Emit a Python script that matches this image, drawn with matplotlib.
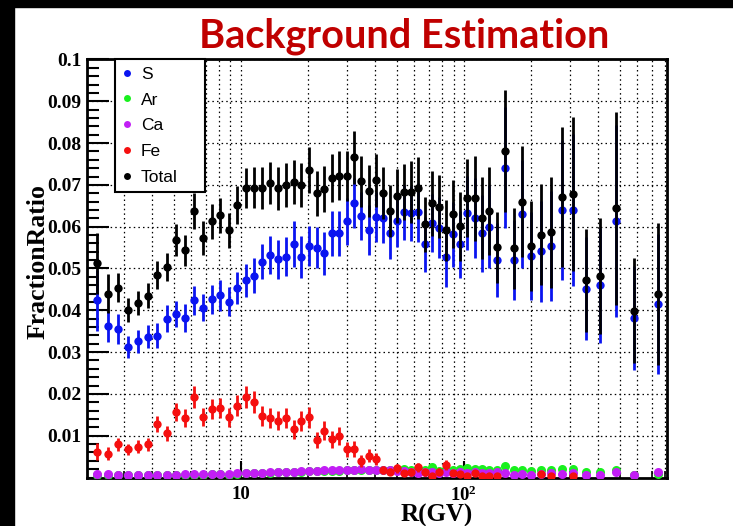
import matplotlib
matplotlib.use("Agg")
import matplotlib.pyplot as plt
from matplotlib.lines import Line2D
from matplotlib.patches import Rectangle
from matplotlib.ticker import FixedLocator, MultipleLocator, NullFormatter
import numpy as np

plt.rcParams['mathtext.fontset'] = 'custom'
plt.rcParams['mathtext.rm'] = 'Liberation Serif'
plt.rcParams['mathtext.bf'] = 'Liberation Serif:bold'

# rigidity bin centres (GV)
rigidity = [2.27, 2.53, 2.82, 3.13, 3.46, 3.83, 4.22, 4.65, 5.12, 5.63,
            6.18, 6.77, 7.42, 8.11, 8.86, 9.67, 10.54, 11.49, 12.49, 13.54,
            14.69, 15.94, 17.29, 18.73, 20.28, 21.93, 23.73, 25.68, 27.73, 29.93,
            32.28, 34.78, 37.47, 40.37, 43.47, 46.77, 50.32, 54.12, 58.16, 62.51,
            67.21, 72.25, 77.65, 83.45, 89.69, 96.44, 103.9, 111.9, 120.4, 129.9,
            140.9, 153.4, 167.3, 183.3, 201.3, 221.7, 245.7, 274.5, 309.9, 353.7,
            408.8, 481.3, 581.0, 740.0]

frac_S = [0.0424, 0.0362, 0.0355, 0.0313, 0.0326, 0.0337, 0.0339, 0.0380, 0.0391, 0.0381,
          0.0424, 0.0406, 0.0426, 0.0436, 0.0421, 0.0454, 0.0472, 0.0483, 0.0516, 0.0532,
          0.0522, 0.0528, 0.0558, 0.0528, 0.0554, 0.0550, 0.0536, 0.0584, 0.0584, 0.0613,
          0.0656, 0.0625, 0.0593, 0.0624, 0.0621, 0.0585, 0.0614, 0.0634, 0.0632, 0.0634,
          0.0558, 0.0609, 0.0598, 0.0527, 0.0582, 0.0558, 0.0633, 0.0621, 0.0584, 0.0600,
          0.0520, 0.0741, 0.0520, 0.0630, 0.0530, 0.0541, 0.0554, 0.0640, 0.0640, 0.0452,
          0.0460, 0.0613, 0.0381, 0.0415]
err_S = [0.0073, 0.0037, 0.0035, 0.0026, 0.0028, 0.0028, 0.0030, 0.0033, 0.0032, 0.0033,
         0.0035, 0.0032, 0.0034, 0.0037, 0.0035, 0.0038, 0.0039, 0.0041, 0.0042, 0.0045,
         0.0046, 0.0047, 0.0055, 0.0050, 0.0048, 0.0050, 0.0052, 0.0053, 0.0054, 0.0056,
         0.0060, 0.0058, 0.0060, 0.0060, 0.0061, 0.0062, 0.0063, 0.0065, 0.0066, 0.0070,
         0.0066, 0.0070, 0.0072, 0.0071, 0.0078, 0.0080, 0.0088, 0.0095, 0.0093, 0.0100,
         0.0088, 0.0145, 0.0095, 0.0130, 0.0106, 0.0120, 0.0132, 0.0167, 0.0182, 0.0124,
         0.0138, 0.0230, 0.0124, 0.0168]

frac_Ar = [0.0007, 0.0006, 0.0005, 0.0005, 0.0005, 0.0006, 0.0006, 0.0006, 0.0006, 0.0007,
           0.0007, 0.0006, 0.0008, 0.0008, 0.0007, 0.0009, 0.0010, 0.0010, 0.0010, 0.0011,
           0.0012, 0.0012, 0.0013, 0.0013, 0.0015, 0.0015, 0.0016, 0.0016, 0.0016, 0.0017,
           0.0018, 0.0019, 0.0019, 0.0018, 0.0019, 0.0017, 0.0018, 0.0020, 0.0019, 0.0021,
           0.0017, 0.0024, 0.0016, 0.0019, 0.0018, 0.0020, 0.0022, 0.0020, 0.0021, 0.0018,
           0.0018, 0.0027, 0.0018, 0.0019, 0.0016, 0.0019, 0.0019, 0.0020, 0.0021, 0.0012,
           0.0014, 0.0018, 0.0006, 0.0009]

frac_Ca = [0.0008, 0.0008, 0.0006, 0.0006, 0.0006, 0.0007, 0.0007, 0.0007, 0.0007, 0.0008,
           0.0008, 0.0008, 0.0009, 0.0009, 0.0009, 0.0010, 0.0011, 0.0011, 0.0011, 0.0012,
           0.0013, 0.0013, 0.0014, 0.0015, 0.0016, 0.0016, 0.0017, 0.0017, 0.0017, 0.0018,
           0.0019, 0.0020, 0.0019, 0.0018, 0.0018, 0.0017, 0.0016, 0.0016, 0.0012, 0.0010,
           0.0012, 0.0013, 0.0010, 0.0014, 0.0011, 0.0012, 0.0011, 0.0012, 0.0010, 0.0011,
           0.0012, 0.0011, 0.0006, 0.0008, 0.0006, 0.0009, 0.0010, 0.0009, 0.0010, 0.0005,
           0.0006, 0.0012, 0.0006, 0.0012]

nan = np.nan
frac_Fe = [0.0062, 0.0057, 0.0079, 0.0067, 0.0074, 0.0079, 0.0127, 0.0106, 0.0156, 0.0142,
           0.0192, 0.0145, 0.0163, 0.0167, 0.0144, 0.0172, 0.0193, 0.0181, 0.0148, 0.0142,
           0.0136, 0.0142, 0.0115, 0.0135, 0.0144, 0.0090, 0.0112, 0.0091, 0.0100, 0.0068,
           0.0068, 0.0040, 0.0052, 0.0044, 0.0018, 0.0014, 0.0022, 0.0010, 0.0012, 0.0024,
           0.0012, 0.0003, 0.0014, 0.0030, 0.0010, 0.0008, 0.0004, 0.0010, 0.0004, 0.0004,
           0.0003, nan, nan, nan, nan, 0.0008, 0.0004, nan, 0.0004, nan,
           nan, nan, nan, nan]
err_Fe = [0.0020, 0.0015, 0.0015, 0.0014, 0.0015, 0.0015, 0.0019, 0.0018, 0.0022, 0.0021,
          0.0026, 0.0022, 0.0024, 0.0024, 0.0023, 0.0025, 0.0027, 0.0026, 0.0024, 0.0024,
          0.0023, 0.0024, 0.0022, 0.0024, 0.0025, 0.0020, 0.0022, 0.0021, 0.0022, 0.0018,
          0.0019, 0.0014, 0.0016, 0.0015, 0.0010, 0.0008, 0.0011, 0.0007, 0.0008, 0.0011,
          0.0008, 0.0004, 0.0009, 0.0012, 0.0007, 0.0006, 0.0004, 0.0007, 0.0004, 0.0004,
          0.0003, nan, nan, nan, nan, 0.0008, 0.0004, nan, 0.0004, nan,
          nan, nan, nan, nan]

frac_total = [0.0512, 0.0440, 0.0454, 0.0400, 0.0417, 0.0435, 0.0485, 0.0504, 0.0568, 0.0544,
              0.0637, 0.0573, 0.0613, 0.0627, 0.0591, 0.0652, 0.0692, 0.0693, 0.0693, 0.0704,
              0.0692, 0.0700, 0.0707, 0.0700, 0.0735, 0.0680, 0.0690, 0.0717, 0.0722, 0.0722,
              0.0766, 0.0709, 0.0686, 0.0711, 0.0680, 0.0637, 0.0673, 0.0683, 0.0683, 0.0692,
              0.0606, 0.0656, 0.0648, 0.0592, 0.0630, 0.0601, 0.0668, 0.0668, 0.0621, 0.0638,
              0.0551, 0.0781, 0.0548, 0.0660, 0.0553, 0.0581, 0.0587, 0.0671, 0.0679, 0.0472,
              0.0482, 0.0644, 0.0399, 0.0438]
err_total = [0.0073, 0.0046, 0.0035, 0.0029, 0.0028, 0.0030, 0.0033, 0.0034, 0.0038, 0.0037,
             0.0043, 0.0041, 0.0042, 0.0042, 0.0041, 0.0045, 0.0048, 0.0049, 0.0050, 0.0050,
             0.0051, 0.0052, 0.0053, 0.0053, 0.0055, 0.0054, 0.0055, 0.0058, 0.0058, 0.0060,
             0.0064, 0.0061, 0.0062, 0.0063, 0.0062, 0.0062, 0.0065, 0.0068, 0.0075, 0.0074,
             0.0066, 0.0078, 0.0076, 0.0073, 0.0082, 0.0083, 0.0093, 0.0102, 0.0098, 0.0105,
             0.0085, 0.0147, 0.0097, 0.0133, 0.0108, 0.0120, 0.0133, 0.0168, 0.0184, 0.0123,
             0.0139, 0.0231, 0.0125, 0.0170]

ytick_vals = [0.01, 0.02, 0.03, 0.04, 0.05, 0.06, 0.07, 0.08, 0.09, 0.1]
ytick_labels = ['0.01', '0.02', '0.03', '0.04', '0.05', '0.06', '0.07', '0.08', '0.09', '0.1']

c_S, c_Ar, c_Ca, c_Fe, c_tot = '#0a14f0', '#19f01e', '#c21ef5', '#f50f0f', 'black'

fig = plt.figure(figsize=(7.33, 5.26), dpi=100)
ax = fig.add_axes([0.1187, 0.0922, 0.7913, 0.7947])

bar_style = dict(fmt='o', ms=6, mew=0, elinewidth=2.0, capsize=1.8, capthick=1.2)
ax.errorbar(rigidity, frac_S, yerr=err_S, color=c_S, zorder=3, **bar_style)
ax.plot(rigidity, frac_Ar, 'o', color=c_Ar, ms=6.5, mew=0, zorder=4)
ax.plot(rigidity, frac_Ca, 'o', color=c_Ca, ms=6.5, mew=0, zorder=5)
ax.errorbar(rigidity, frac_Fe, yerr=err_Fe, color=c_Fe, zorder=6, **bar_style)
ax.errorbar(rigidity, frac_total, yerr=err_total, color=c_tot, zorder=7, **bar_style)

ax.set_xscale('log')
ax.set_xlim(2.046, 816)
ax.set_ylim(0, 0.1)

serif_bold = dict(family='Liberation Serif', weight='bold')

ax.xaxis.set_major_locator(FixedLocator([10, 100]))
ax.set_xticklabels(['10', r'$\mathbf{10^{2}}$'], fontsize=13.5, **serif_bold)
ax.xaxis.set_minor_locator(FixedLocator([3, 4, 5, 6, 7, 8, 9, 20, 30, 40, 50, 60, 70, 80, 90,
                                         200, 300, 400, 500, 600, 700, 800]))
ax.xaxis.set_minor_formatter(NullFormatter())
ax.yaxis.set_major_locator(FixedLocator(ytick_vals))
ax.set_yticklabels(ytick_labels, fontsize=14, **serif_bold)
ax.yaxis.set_minor_locator(MultipleLocator(0.002))

ax.tick_params(axis='x', which='major', direction='in', length=12, width=1.5, pad=6)
ax.tick_params(axis='x', which='minor', direction='in', length=5, width=1.2)
ax.tick_params(axis='y', which='major', direction='in', length=16, width=1.5, pad=4)
ax.tick_params(axis='y', which='minor', direction='in', length=8.5, width=1.5)

ax.grid(True, axis='x', which='both', ls=(0, (1.2, 2.5)), color='black', lw=0.9)
ax.grid(True, axis='y', which='major', ls=(0, (1.2, 2.5)), color='black', lw=0.9)
ax.set_axisbelow(True)

for side in ax.spines.values():
    side.set_linewidth(2.0)

ax.set_xlabel('R(GV)', fontsize=18, **serif_bold)
ax.xaxis.set_label_coords(0.603, -0.062)
ax.set_ylabel('FractionRatio', fontsize=18.5, **serif_bold)
ax.yaxis.set_label_coords(-0.065, 0.516)

handles = [Line2D([], [], ls='none', marker='o', ms=5, mew=0, color=c)
           for c in (c_S, c_Ar, c_Ca, c_Fe, c_tot)]
leg = ax.legend(handles, ['S', 'Ar', 'Ca', 'Fe', 'Total'], loc='upper left',
                bbox_to_anchor=(0.0483, 0.0, 0.155, 1.0), mode='expand',
                borderaxespad=0, fancybox=False,
                framealpha=1, edgecolor='black', handlelength=0.6, handletextpad=0.5,
                labelspacing=0.62, borderpad=0.4,
                prop=dict(family='Liberation Sans', size=12.5))
leg.get_frame().set_linewidth(1.5)
leg.set_zorder(10)

fig.text(0.551, 0.931, 'Background Estimation', ha='center', va='center',
         fontsize=28.5, fontweight='bold', family='Lato', color='#c00000')

# dark frame strips along the left and top edges
fig.patches.append(Rectangle((0, 0), 14 / 733, 1, transform=fig.transFigure,
                             color='black', zorder=0))
fig.patches.append(Rectangle((0, 1 - 7 / 526), 1, 7 / 526, transform=fig.transFigure,
                             color='black', zorder=0))

fig.savefig('out.png', dpi=100)
